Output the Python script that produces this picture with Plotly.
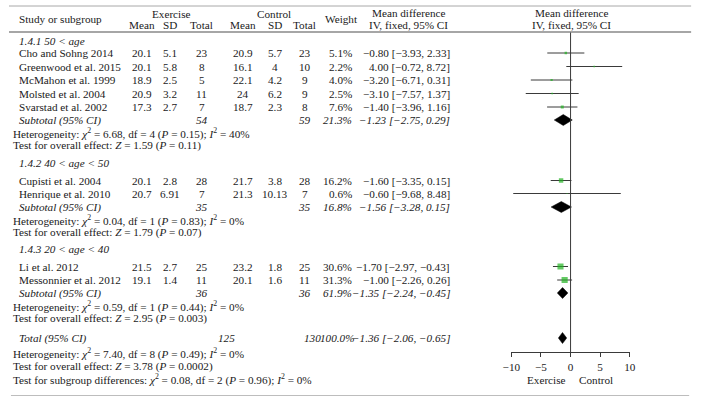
import plotly.graph_objects as go

W, H = 703, 404

# ---------------- data ----------------
studies = ["Cho and Sohng 2014", "Greenwood et al. 2015", "McMahon et al. 1999",
           "Molsted et al. 2004", "Svarstad et al. 2002", "Cupisti et al. 2004",
           "Henrique et al. 2010", "Li et al. 2012", "Messonnier et al. 2012"]
ex_mean = [20.1, 20.1, 18.9, 20.9, 17.3, 20.1, 20.7, 21.5, 19.1]
ex_sd = [5.1, 5.8, 2.5, 3.2, 2.7, 2.8, 6.91, 2.7, 1.4]
ex_n = [23, 8, 5, 11, 7, 28, 7, 25, 11]
ct_mean = [20.9, 16.1, 22.1, 24, 18.7, 21.7, 21.3, 23.2, 20.1]
ct_sd = [5.7, 4, 4.2, 6.2, 2.3, 3.8, 10.13, 1.8, 1.6]
ct_n = [23, 10, 9, 9, 8, 28, 7, 25, 11]
weight = [5.1, 2.2, 4.0, 2.5, 7.6, 16.2, 0.6, 30.6, 31.3]
md = [-0.80, 4.00, -3.20, -3.10, -1.40, -1.60, -0.60, -1.70, -1.00]
md_lo = [-3.93, -0.72, -6.71, -7.57, -3.96, -3.35, -9.68, -2.97, -2.26]
md_hi = [2.33, 8.72, 0.31, 1.37, 1.16, 0.15, 8.48, -0.43, 0.26]

sub_labels = ["1.4.1 50 < age", "1.4.2 40 < age < 50", "1.4.3 20 < age < 40"]
sub_ex_n = [54, 35, 36]
sub_ct_n = [59, 35, 36]
sub_w = [21.3, 16.8, 61.9]
sub_md = [-1.23, -1.56, -1.35]
sub_lo = [-2.75, -3.28, -2.24]
sub_hi = [0.29, 0.15, -0.45]
sub_chi2 = ["6.68", "0.04", "0.59"]
sub_df = [4, 1, 1]
sub_p = ["0.15", "0.83", "0.44"]
sub_i2 = [40, 0, 0]
sub_z = ["1.59", "1.79", "2.95"]
sub_pz = ["0.11", "0.07", "0.003"]

tot_ex_n, tot_ct_n, tot_w = 125, 130, "100.0"
tot_md, tot_lo, tot_hi = -1.36, -2.06, -0.65
tot_chi2, tot_df, tot_p, tot_i2 = "7.40", 8, "0.49", 0
tot_z, tot_pz = "3.78", "0.0002"
diff_chi2, diff_df, diff_p, diff_i2 = "0.08", 2, "0.96", 0

x_ticks = [-10, -5, 0, 5, 10]

# ---------------- layout positions (pixel rows) ----------------
row_study = [53, 66.5, 80, 93.5, 107, 180.5, 193.5, 266.5, 280]
row_group = [41, 163, 249]
row_sub = [120, 207, 293]
row_het = [133, 220, 306]
row_test = [145.5, 232, 318]
row_tot, row_tot_het, row_tot_test, row_diff = 338, 353, 366, 379

FONT = "Liberation Serif"
FS = 11.2
COL = "#1a1a1a"
GREEN = "#22b422"

def m(v):
    return v.replace("-", "\u2212")

def fmt_md(v, lo, hi):
    return m(f"{v:.2f} [{lo:.2f}, {hi:.2f}]")

annotations = []

def txt(x, y, s, align="center", italic=False):
    if italic:
        s = f"<i>{s}</i>"
    annotations.append(dict(
        x=x / W, y=y, xref="paper", yref="y", text=s, showarrow=False,
        xanchor=align, yanchor="middle", borderpad=0,
        font=dict(family=FONT, size=FS, color=COL)))

# columns
X_STUDY, X_NOTE = 9, 3
X_EM, X_ES, X_EN = 136, 164, 197
X_CM, X_CS, X_CN = 239, 272, 302
X_W = 352
X_MD = 452

# header
txt(X_STUDY, 19, "Study or subgroup", "left")
txt(166.5, 13.5, "Exercise")
txt(270.5, 13.5, "Control")
for x, s in [(X_EM, "Mean"), (X_ES, "SD"), (X_EN, "Total"),
             (X_CM, "Mean"), (X_CS, "SD"), (X_CN, "Total")]:
    txt(x, 24.5, s)
txt(340, 19, "Weight")
txt(408.5, 13, "Mean difference")
txt(408.5, 24.5, "IV, fixed, 95% CI")
txt(574.5, 13, "Mean difference")
txt(574.5, 24.5, "IV, fixed, 95% CI")

# study rows
for i, s in enumerate(studies):
    y = row_study[i]
    txt(X_STUDY, y, s, "left")
    txt(X_EM, y, f"{ex_mean[i]:g}")
    txt(X_ES, y, f"{ex_sd[i]:g}")
    txt(X_EN, y, f"{ex_n[i]}")
    txt(X_CM, y, f"{ct_mean[i]:g}")
    txt(X_CS, y, f"{ct_sd[i]:g}")
    txt(X_CN, y, f"{ct_n[i]}")
    txt(X_W, y, f"{weight[i]:.1f}%", "right")
    txt(X_MD, y, fmt_md(md[i], md_lo[i], md_hi[i]), "right")

# subgroup rows
for g in range(3):
    txt(X_STUDY, row_group[g], sub_labels[g], "left", italic=True)
    y = row_sub[g]
    txt(X_STUDY, y, "Subtotal (95% CI)", "left", italic=True)
    txt(X_EN, y, f"{sub_ex_n[g]}", italic=True)
    txt(X_CN, y, f"{sub_ct_n[g]}", italic=True)
    txt(X_W, y, f"{sub_w[g]:.1f}%", "right", italic=True)
    txt(X_MD, y, fmt_md(sub_md[g], sub_lo[g], sub_hi[g]), "right", italic=True)
    txt(X_NOTE, row_het[g],
        f"Heterogeneity: <i>\u03c7</i><sup>2</sup> = {sub_chi2[g]}, df = {sub_df[g]} "
        f"(<i>P</i> = {sub_p[g]}); <i>I</i><sup>2</sup> = {sub_i2[g]}%", "left")
    txt(X_NOTE, row_test[g],
        f"Test for overall effect: <i>Z</i> = {sub_z[g]} (<i>P</i> = {sub_pz[g]})", "left")

# total
txt(X_STUDY, row_tot, "Total (95% CI)", "left", italic=True)
txt(222, row_tot, f"{tot_ex_n}", italic=True)
txt(310, row_tot, f"{tot_ct_n}", italic=True)
txt(355, row_tot, f"{tot_w}%", "right", italic=True)
txt(X_MD, row_tot, fmt_md(tot_md, tot_lo, tot_hi), "right", italic=True)
txt(X_NOTE, row_tot_het,
    f"Heterogeneity: <i>\u03c7</i><sup>2</sup> = {tot_chi2}, df = {tot_df} "
    f"(<i>P</i> = {tot_p}); <i>I</i><sup>2</sup> = {tot_i2}%", "left")
txt(X_NOTE, row_tot_test,
    f"Test for overall effect: <i>Z</i> = {tot_z} (<i>P</i> = {tot_pz})", "left")
txt(X_NOTE, row_diff,
    f"Test for subgroup differences: <i>\u03c7</i><sup>2</sup> = {diff_chi2}, df = {diff_df} "
    f"(<i>P</i> = {diff_p}); <i>I</i><sup>2</sup> = {diff_i2}%", "left")

# axis captions
txt(549.5, 380, "Exercise")
txt(600, 380, "Control")

fig = go.Figure()

# CI lines
cx, cy = [], []
for i in range(len(studies)):
    cx += [md_lo[i], md_hi[i], None]
    cy += [row_study[i], row_study[i], None]
fig.add_trace(go.Scatter(x=cx, y=cy, mode="lines",
                         line=dict(color="#3a3a3a", width=1), hoverinfo="skip"))

# study squares
fig.add_trace(go.Scatter(
    x=md, y=row_study, mode="markers",
    marker=dict(symbol="square", color=GREEN, size=[1.1 * w ** 0.5 for w in weight],
                line=dict(width=0)),
    hoverinfo="skip"))

# diamonds
def diamond(mean, lo, hi, y, h=5.5):
    fig.add_trace(go.Scatter(
        x=[lo, mean, hi, mean, lo], y=[y, y - h, y, y + h, y],
        mode="lines", fill="toself", fillcolor="black",
        line=dict(color="black", width=0.5), hoverinfo="skip"))

for g in range(3):
    diamond(sub_md[g], sub_lo[g], sub_hi[g], row_sub[g])
diamond(tot_md, tot_lo, tot_hi, row_tot)

shapes = [
    dict(type="line", xref="paper", yref="y", x0=0, x1=697 / W, y0=6, y1=6,
         line=dict(color="#a8a8a8", width=1)),
    dict(type="line", xref="paper", yref="y", x0=0, x1=697 / W, y0=32, y1=32,
         line=dict(color="#888888", width=1.5)),
    dict(type="line", xref="paper", yref="y", x0=2 / W, x1=695 / W, y0=395.5, y1=395.5,
         line=dict(color="#bdbdbd", width=1)),
    dict(type="line", xref="x", yref="y", x0=0, x1=0, y0=32.5, y1=352.3,
         line=dict(color="#3a3a3a", width=1)),
]

fig.update_layout(
    width=W, height=H, margin=dict(l=0, r=0, t=0, b=0),
    paper_bgcolor="white", plot_bgcolor="white", showlegend=False,
    annotations=annotations, shapes=shapes,
    xaxis=dict(domain=[513.3 / W, 634.3 / W], range=[-10, 10], anchor="free",
               position=1 - 352.3 / H, showline=True, linecolor="#3a3a3a", linewidth=1,
               ticks="outside", ticklen=4, tickcolor="#3a3a3a", tickwidth=1,
               tickvals=x_ticks, ticktext=[m(str(t)) for t in x_ticks],
               showgrid=False, zeroline=False, fixedrange=True,
               tickfont=dict(family=FONT, size=FS, color=COL)),
    yaxis=dict(domain=[0, 1], range=[H, 0], visible=False, showgrid=False,
               zeroline=False, fixedrange=True),
)

fig.write_html("out.html", config={"displayModeBar": False, "staticPlot": True},
               post_script="document.body.style.margin='0';document.body.style.overflow='hidden';")
